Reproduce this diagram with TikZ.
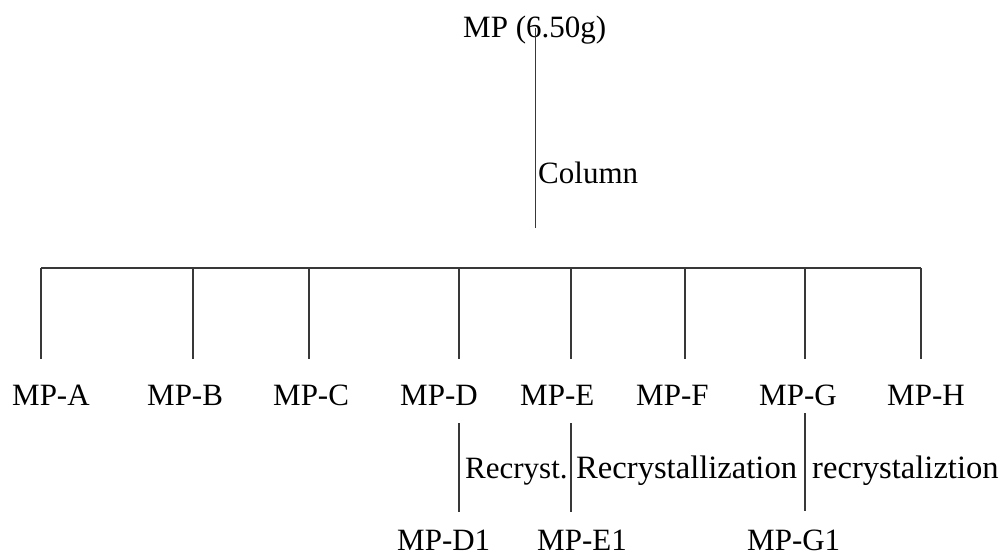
\documentclass[tikz,border=0pt]{standalone}
\usepackage{fontspec}
\setmainfont{Liberation Serif}
\begin{document}
\begin{tikzpicture}[x=1pt,y=-1pt,
  lbl/.style={anchor=base west,inner sep=0pt,font=\fontsize{31}{36}\selectfont},
  wide/.style={lbl,font=\fontsize{32.6}{38}\selectfont},
  conn/.style={draw=black!78,line width=1.2pt}]
\useasboundingbox (0,0) rectangle (1000,555);
% texts
\node[lbl] (mp) at (463,37) {MP (6.50g)};
\node[lbl] (col) at (538,183) {Column};
\node[lbl] (A) at (12,405) {MP-A};
\node[lbl] (B) at (147,405) {MP-B};
\node[lbl] (C) at (273,405) {MP-C};
\node[lbl] (D) at (400,405) {MP-D};
\node[lbl] (E) at (520,405) {MP-E};
\node[lbl] (F) at (636,405) {MP-F};
\node[lbl] (G) at (759,405) {MP-G};
\node[lbl] (H) at (887,405) {MP-H};
\node[lbl] (rD) at (465,478) {Recryst.};
\node[wide] (rE) at (576,478) {Recrystallization};
\node[wide] (rG) at (812,478) {recrystaliztion};
\node[lbl] (D1) at (397,550) {MP-D1};
\node[lbl] (E1) at (537,550) {MP-E1};
\node[lbl] (G1) at (747,550) {MP-G1};
% connector points
\coordinate (top) at (535.5,28);
\coordinate (mid) at (535.5,228);
\coordinate (barL) at (41,268);
\coordinate (barR) at (921,268);
\foreach \n/\x in {a/41,b/193,c/309,d/459,e/571,f/685,g/805,h/921}{
  \coordinate (t\n) at (\x,268);
  \coordinate (b\n) at (\x,359);
}
\coordinate (d1t) at (459,423); \coordinate (d1b) at (459,512);
\coordinate (e1t) at (571,423); \coordinate (e1b) at (571,512);
\coordinate (g1t) at (805,413); \coordinate (g1b) at (805,511);
% connectors
\draw[conn] (top) -- (mid);
\draw[conn] (barL) -- (barR);
\foreach \n in {a,b,c,d,e,f,g,h}{\draw[conn] (t\n) -- (b\n);}
\draw[conn] (d1t) -- (d1b);
\draw[conn] (e1t) -- (e1b);
\draw[conn] (g1t) -- (g1b);
\end{tikzpicture}
\end{document}
